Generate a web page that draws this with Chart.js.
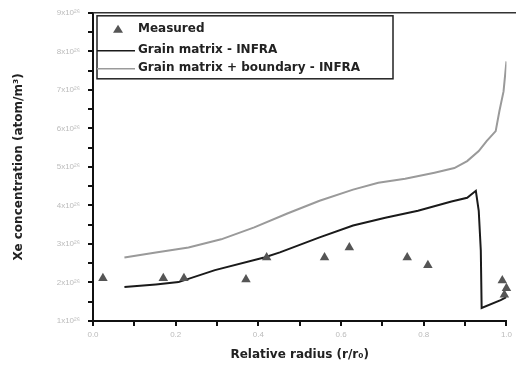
<!DOCTYPE html>
<html><head><meta charset="utf-8">
<script src="https://cdn.jsdelivr.net/npm/chart.js@4.4.0/dist/chart.umd.min.js"></script>
<style>html,body{margin:0;padding:0;background:#fff;}#wrap{width:516px;height:366px;}</style>
</head><body><div id="wrap"><canvas id="c" width="516" height="366"></canvas></div>
<script>
// Values in units of 1e26 atom/m3 vs relative radius
const measuredX = [0.024, 0.17, 0.22, 0.37, 0.42, 0.56, 0.62, 0.76, 0.81, 0.99, 1.0, 0.995];
const measuredY = [2.11, 2.11, 2.11, 2.08, 2.65, 2.65, 2.91, 2.65, 2.45, 2.05, 1.85, 1.68];
const matrixX = [0.076, 0.152, 0.207, 0.295, 0.414, 0.452, 0.548, 0.629, 0.707, 0.786, 0.867, 0.905, 0.926, 0.933, 0.938, 0.94, 0.986, 1.0];
const matrixY = [1.88, 1.95, 2.01, 2.32, 2.65, 2.78, 3.17, 3.48, 3.68, 3.86, 4.10, 4.20, 4.38, 3.86, 2.83, 1.34, 1.54, 1.62];
const boundaryX = [0.076, 0.152, 0.231, 0.31, 0.39, 0.47, 0.548, 0.629, 0.69, 0.755, 0.826, 0.874, 0.905, 0.933, 0.952, 0.974, 0.983, 0.993, 1.0];
const boundaryY = [2.65, 2.78, 2.91, 3.12, 3.43, 3.79, 4.12, 4.41, 4.59, 4.69, 4.85, 4.97, 5.15, 5.41, 5.67, 5.93, 6.45, 6.96, 7.74];
const seriesNames = ['Measured', 'Grain matrix - INFRA', 'Grain matrix + boundary - INFRA'];
const yTickLabels = ['1x10²⁶','2x10²⁶','3x10²⁶','4x10²⁶','5x10²⁶','6x10²⁶','7x10²⁶','8x10²⁶','9x10²⁶'];
const xTickLabels = ['0.0','0.2','0.4','0.6','0.8','1.0'];

const pts = (xs, ys) => xs.map((x, i) => ({x: x, y: ys[i]}));
const FONT = '"DejaVu Sans", Arial, sans-serif';

const framePlugin = {
  id: 'frame',
  afterDatasetsDraw(chart) {
    const {ctx, chartArea: a} = chart;
    ctx.save();
    ctx.strokeStyle = '#333'; ctx.lineWidth = 1.5;
    ctx.beginPath(); ctx.moveTo(a.left, a.top); ctx.lineTo(chart.width, a.top); ctx.stroke();
    // legend box
    const lx = a.left + 4, ly = a.top + 3, lw = 296, lh = 63;
    ctx.lineWidth = 1.5; ctx.strokeStyle = '#222';
    ctx.strokeRect(lx, ly, lw, lh);
    ctx.font = 'bold 12px ' + FONT;
    ctx.fillStyle = '#222'; ctx.textBaseline = 'middle';
    const ds = chart.data.datasets;
    const tx = lx + 41;
    ctx.fillStyle = '#555';
    ctx.beginPath(); ctx.moveTo(lx + 21, ly + 9); ctx.lineTo(lx + 26, ly + 17); ctx.lineTo(lx + 16, ly + 17); ctx.closePath(); ctx.fill();
    ctx.fillStyle = '#222';
    ctx.fillText(ds[0].label, tx, ly + 13);
    ctx.strokeStyle = ds[1].borderColor; ctx.lineWidth = 1.5;
    ctx.beginPath(); ctx.moveTo(lx, ly + 35); ctx.lineTo(lx + 38, ly + 35); ctx.stroke();
    ctx.fillText(ds[1].label, tx, ly + 34);
    ctx.strokeStyle = ds[2].borderColor; ctx.lineWidth = 1.5;
    ctx.beginPath(); ctx.moveTo(lx, ly + 53); ctx.lineTo(lx + 38, ly + 53); ctx.stroke();
    ctx.fillText(ds[2].label, tx, ly + 52);
    ctx.restore();
  }
};

new Chart(document.getElementById('c'), {
  type: 'scatter',
  data: {
    datasets: [
      {label: seriesNames[0], data: pts(measuredX, measuredY), pointStyle: 'triangle', pointRadius: 5.5,
       backgroundColor: '#555', borderColor: '#555', borderWidth: 0, showLine: false, clip: false},
      {label: seriesNames[1], data: pts(matrixX, matrixY), showLine: true, borderColor: '#1a1a1a', borderWidth: 2,
       pointRadius: 0, tension: 0},
      {label: seriesNames[2], data: pts(boundaryX, boundaryY), showLine: true, borderColor: '#9a9a9a', borderWidth: 2,
       pointRadius: 0, tension: 0}
    ]
  },
  options: {
    responsive: false, animation: false,
    layout: {padding: {top: 11, right: 2, left: 0, bottom: 0}},
    plugins: {legend: {display: false}, tooltip: {enabled: false}},
    scales: {
      x: {
        type: 'linear', min: 0, max: 1,
        border: {color: '#111', width: 2},
        grid: {drawOnChartArea: false, drawTicks: true, tickLength: 5, color: '#111', lineWidth: 2},
        ticks: {stepSize: 0.1, autoSkip: false, maxRotation: 0, color: '#bbb', font: {size: 8}, padding: 4,
          callback: (v) => { const k = Math.round(v * 10); return k % 2 === 0 ? xTickLabels[k / 2] : ''; }},
        title: {display: true, text: 'Relative radius (r/r₀)', color: '#222',
          font: {size: 12, weight: 'bold', family: FONT}, padding: {top: 2}},
        afterFit: (s) => { s.height = 45; }
      },
      y: {
        type: 'linear', min: 1, max: 9,
        border: {color: '#111', width: 2},
        grid: {drawOnChartArea: false, drawTicks: true, tickLength: 5, color: '#111', lineWidth: 2},
        ticks: {stepSize: 0.5, autoSkip: false, color: '#bbb', font: {size: 8}, padding: 8,
          callback: (v) => Number.isInteger(v) ? yTickLabels[v - 1] : ''},
        title: {display: true, text: 'Xe concentration (atom/m³)', color: '#222',
          font: {size: 12, weight: 'bold', family: FONT}, padding: {top: 12, bottom: 0}},
        afterFit: (s) => { s.width = 93; }
      }
    }
  },
  plugins: [framePlugin]
});
</script></body></html>
